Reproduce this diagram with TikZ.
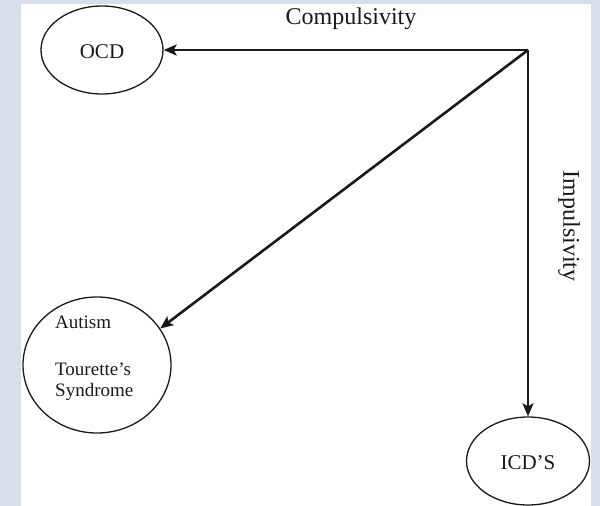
\documentclass[tikz,border=0pt]{standalone}
\usepackage{fontspec}
\setmainfont{Liberation Serif}
\usetikzlibrary{shapes.geometric,arrows.meta}
\definecolor{bgframe}{RGB}{214,223,233}
\definecolor{ink}{RGB}{25,25,25}
\begin{document}
\begin{tikzpicture}[x=1pt,y=-1pt,
  oval/.style={draw=ink,line width=1.3pt,ellipse,inner sep=0pt},
  link/.style={draw=ink,line width=2.6pt,-{Stealth[length=13pt,width=11pt,inset=3pt]}},
  lbl/.style={text=ink,inner sep=0pt}]
\useasboundingbox (0,0) rectangle (600,506);
\fill[bgframe] (0,0) rectangle (600,506);
\fill[white] (21,4) rectangle (591,506);
\node[oval,minimum width=122pt,minimum height=88pt] (ocd) at (102,50) {};
\node[lbl,font=\fontsize{21}{23}\selectfont] (ocdt) at (102,52) {OCD};
\node[oval,minimum width=148pt,minimum height=136pt] (aut) at (97,365) {};
\node[lbl,align=left,anchor=north west,font=\fontsize{19}{21}\selectfont] (autt) at (55,316) {Autism\\[26pt]Tourette’s\\Syndrome};
\node[oval,minimum width=123pt,minimum height=88pt] (icd) at (528,461) {};
\node[lbl,font=\fontsize{21}{23}\selectfont] (icdt) at (528,463) {ICD’S};
\coordinate (corner) at (528,50);
\draw[link] (corner) -- (ocd);
\draw[link] (corner) -- (icd);
\draw[link] (corner) -- (aut.30);
\node[lbl,font=\fontsize{24}{26}\selectfont] (comp) at (351,19) {Compulsivity};
\node[lbl,rotate=-90,font=\fontsize{24}{26}\selectfont] (imp) at (569,226) {Impulsivity};
\end{tikzpicture}
\end{document}
